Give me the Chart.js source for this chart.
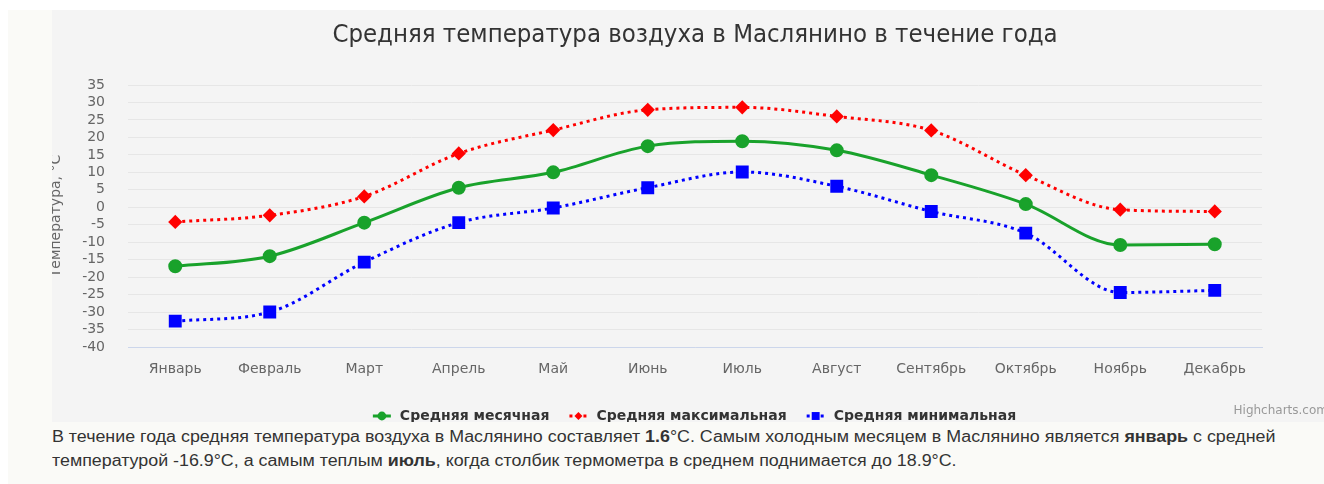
<!DOCTYPE html>
<html>
<head>
<meta charset="utf-8">
<script src="https://cdn.jsdelivr.net/npm/chart.js@4/dist/chart.umd.min.js"></script>
<style>
  html, body { margin: 0; padding: 0; background: #fff; overflow: hidden; width: 1324px; height: 484px; }
  #page { position: absolute; left: 8px; top: 10px; width: 1316px; height: 474px; background: #fafaf7; }
  #box { position: absolute; left: 52px; top: 10px; width: 1286px; height: 412px; background: #f4f4f4; }
  #note { position: absolute; left: 52px; top: 425px; font: 16px "Liberation Sans", Arial, sans-serif;
          color: #333; line-height: 24px; white-space: nowrap;
          transform: scaleX(1.115); transform-origin: 0 0; }
</style>
</head>
<body>
<div id="page"></div>
<div id="box"><canvas id="tempChart" width="1286" height="412"></canvas></div>
<div id="note">В течение года средняя температура воздуха в Маслянино составляет <b>1.6</b>°C. Самым холодным месяцем в Маслянино является <b>январь</b> с средней<br>температурой -16.9°C, а самым теплым <b>июль</b>, когда столбик термометра в среднем поднимается до 18.9°C.</div>
<script>
const months = ['Январь', 'Февраль', 'Март', 'Апрель', 'Май', 'Июнь',
                'Июль', 'Август', 'Сентябрь', 'Октябрь', 'Ноябрь', 'Декабрь'];
const avgTemp = [-16.9, -14.0, -4.4, 5.6, 10.0, 17.5, 18.9, 16.3, 9.2, 0.9, -10.8, -10.6];
const maxTemp = [-4.2, -2.3, 3.1, 15.4, 22.1, 27.9, 28.6, 26.0, 22.0, 9.2, -0.7, -1.2];
const minTemp = [-32.6, -30.0, -15.7, -4.4, -0.2, 5.6, 10.1, 6.0, -1.2, -7.4, -24.4, -23.8];
const yTicks = [-40, -35, -30, -25, -20, -15, -10, -5, 0, 5, 10, 15, 20, 25, 30, 35];

const titleText = 'Средняя температура воздуха в Маслянино в течение года';
const font = '"DejaVu Sans", Verdana, sans-serif';

// title, legend and credits drawn the Highcharts way
const overlay = {
  id: 'overlay',
  afterDraw(chart) {
    const ctx = chart.ctx;
    ctx.save();
    ctx.fillStyle = '#333';
    ctx.font = '25.5px "DejaVu Sans Condensed", "DejaVu Sans", sans-serif';
    ctx.textAlign = 'center';
    ctx.textBaseline = 'middle';
    ctx.fillText(titleText, chart.width / 2, 25);

    ctx.font = 'bold 14px ' + font;
    const sets = chart.data.datasets;
    const widths = sets.map(ds => ctx.measureText(ds.label).width);
    const total = widths.reduce((a, b) => a + b, 0) + sets.length * 18 + (sets.length - 1) * 29 + 8;
    let x = chart.width / 2 - total / 2 + 8;
    const y = 406;
    sets.forEach((ds, i) => {
      ctx.strokeStyle = ds.borderColor;
      ctx.lineWidth = 3;
      ctx.setLineDash(ds.borderDash || []);
      ctx.beginPath();
      ctx.moveTo(x - 9, y);
      ctx.lineTo(x + 9, y);
      ctx.stroke();
      ctx.setLineDash([]);
      ctx.fillStyle = ds.pointBackgroundColor;
      Chart.helpers.drawPoint(ctx, { pointStyle: ds.pointStyle, radius: ds.pointRadius * 0.8, borderWidth: 0, rotation: 0 }, x, y);
      ctx.fillStyle = '#333';
      ctx.textAlign = 'left';
      ctx.fillText(ds.label, x + 18, y);
      x += 18 + widths[i] + 29;
    });

    ctx.font = '12px ' + font;
    ctx.fillStyle = '#999';
    ctx.textAlign = 'right';
    ctx.fillText('Highcharts.com', chart.width - 10, 401);
    ctx.restore();
  }
};

new Chart(document.getElementById('tempChart'), {
  type: 'line',
  data: {
    labels: months,
    datasets: [{
      label: 'Средняя месячная',
      data: avgTemp,
      borderColor: '#19a22b',
      pointBackgroundColor: '#19a22b',
      borderWidth: 3,
      pointStyle: 'circle',
      pointRadius: 5.5
    }, {
      label: 'Средняя максимальная',
      data: maxTemp,
      borderColor: '#ff0000',
      pointBackgroundColor: '#ff0000',
      borderWidth: 3,
      borderDash: [3, 4],
      pointStyle: 'rectRot',
      pointRadius: 5
    }, {
      label: 'Средняя минимальная',
      data: minTemp,
      borderColor: '#0000ff',
      pointBackgroundColor: '#0000ff',
      borderWidth: 3,
      borderDash: [3, 4],
      pointStyle: 'rect',
      pointRadius: 7
    }]
  },
  options: {
    responsive: false,
    animation: false,
    elements: {
      line: { tension: 0.4, cubicInterpolationMode: 'monotone' },
      point: { borderWidth: 0, hoverRadius: 6 }
    },
    layout: { padding: { top: 75, right: 76, left: 0, bottom: 0 } },
    plugins: { legend: { display: false }, title: { display: false }, tooltip: { enabled: false } },
    scales: {
      x: {
        offset: true,
        grid: { display: false, drawTicks: false },
        border: { color: '#ccd6eb', width: 1 },
        ticks: { color: '#666', padding: 14, font: { family: font, size: 14 } },
        afterFit: s => { s.height = 75; }
      },
      y: {
        min: -40,
        max: 35,
        afterBuildTicks: s => { s.ticks = yTicks.map(v => ({ value: v })); },
        grid: { color: '#e6e6e6', drawTicks: false },
        border: { display: false },
        ticks: { color: '#666', padding: 23, autoSkip: false, font: { family: font, size: 14 } },
        title: { display: true, text: 'Температура, °C', color: '#666', padding: { top: -4, bottom: 0 },
                 font: { family: font, size: 14 } },
        afterFit: s => { s.width = 76; }
      }
    }
  },
  plugins: [overlay]
});
</script>
</body>
</html>
